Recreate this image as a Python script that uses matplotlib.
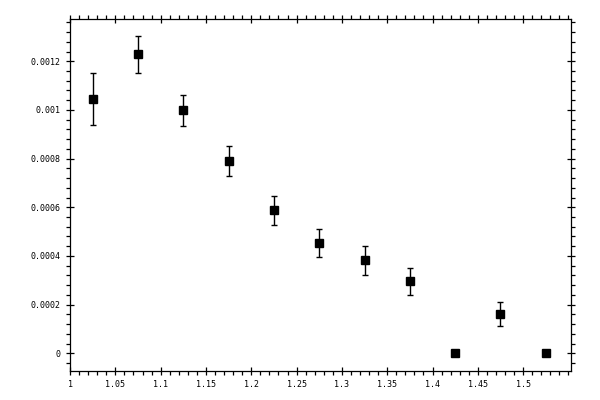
import matplotlib
matplotlib.use('Agg')
import matplotlib.pyplot as plt
from matplotlib.ticker import MultipleLocator, FormatStrFormatter
import numpy as np

x_vals = [1.025, 1.075, 1.125, 1.175, 1.225, 1.275, 1.325, 1.375, 1.425, 1.475, 1.525]
y_vals = [1.044e-3, 1.229e-3, 9.98e-4, 7.89e-4, 5.87e-4, 4.52e-4, 3.82e-4, 2.96e-4, 0.0, 1.60e-4, 0.0]
y_errs = [1.07e-4, 7.6e-5, 6.5e-5, 6.2e-5, 6.0e-5, 5.7e-5, 5.9e-5, 5.5e-5, 0.0, 4.9e-5, 0.0]

x_ticks = [1, 1.05, 1.1, 1.15, 1.2, 1.25, 1.3, 1.35, 1.4, 1.45, 1.5]
x_labels = ['1', '1.05', '1.1', '1.15', '1.2', '1.25', '1.3', '1.35', '1.4', '1.45', '1.5']
y_ticks = [0, 0.0002, 0.0004, 0.0006, 0.0008, 0.001, 0.0012]
y_labels = ['0', '0.0002', '0.0004', '0.0006', '0.0008', '0.001', '0.0012']

fig = plt.figure(figsize=(6, 4), dpi=100)
ax = fig.add_axes([0.1167, 0.0733, 0.8345, 0.8785])

x = np.array(x_vals)
y = np.array(y_vals)
e = np.array(y_errs)
has_err = e > 0

ax.errorbar(x[has_err], y[has_err], yerr=e[has_err], fmt='none',
            ecolor='black', elinewidth=1.0, capsize=2.3, capthick=1.0)
ax.plot(x, y, 's', color='black', markersize=5.8, linestyle='none')

ax.set_xlim(1.0, 1.5525)
ax.set_ylim(-7.15e-5, 1.3726e-3)

ax.set_xticks(x_ticks)
ax.set_xticklabels(x_labels)
ax.set_yticks(y_ticks)
ax.set_yticklabels(y_labels)
ax.xaxis.set_minor_locator(MultipleLocator(0.01))
ax.yaxis.set_minor_locator(MultipleLocator(0.00004))

for s in ax.spines.values():
    s.set_linewidth(0.9)

ax.tick_params(which='major', direction='inout', length=6, width=0.9,
               top=True, right=True, labelsize=6, pad=4)
ax.tick_params(which='minor', direction='out', length=3, width=0.9,
               top=True, right=True)

for lab in ax.get_xticklabels() + ax.get_yticklabels():
    lab.set_fontfamily('DejaVu Sans Mono')

fig.savefig('out.png', dpi=100)
